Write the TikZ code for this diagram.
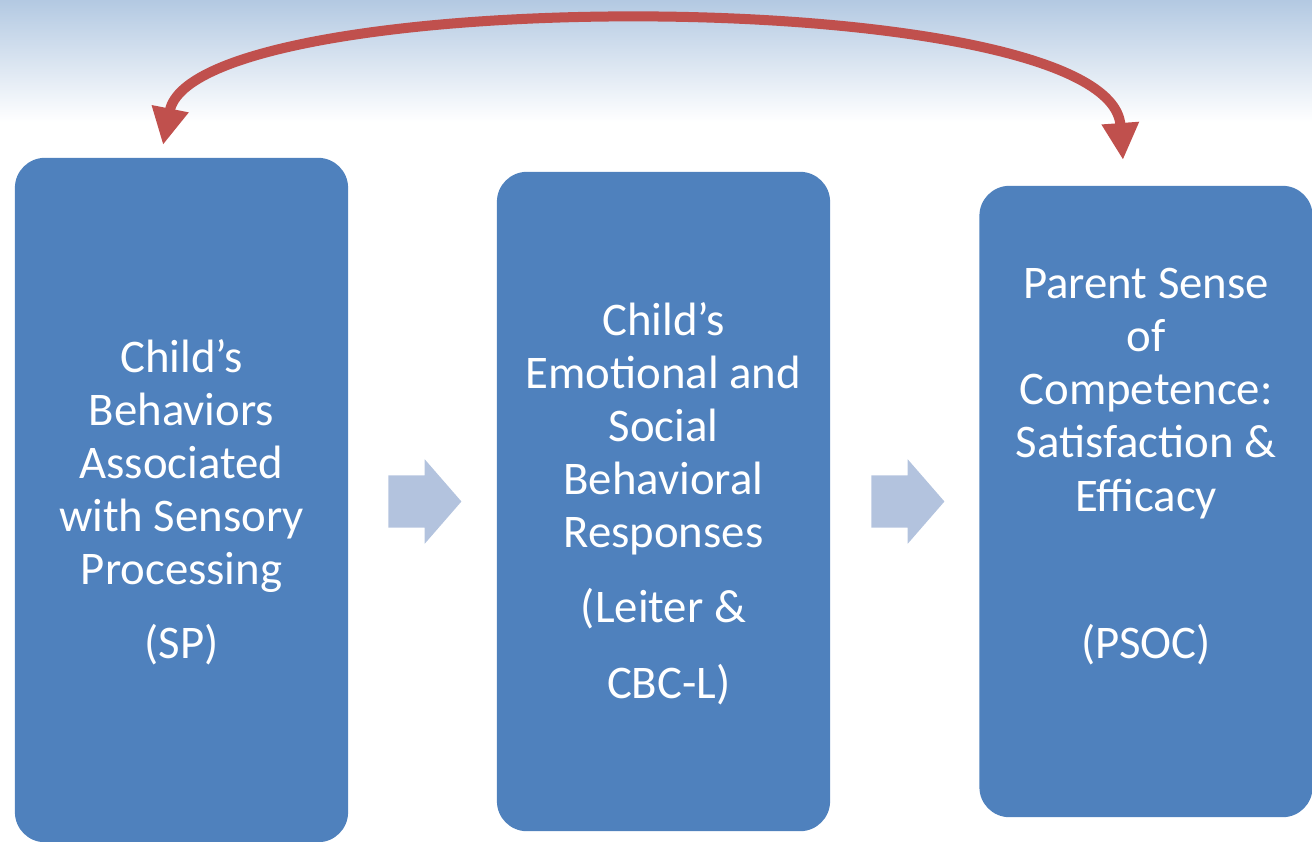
\documentclass[tikz,border=0pt]{standalone}
\usepackage{fontspec}
\setmainfont{Carlito}
\usetikzlibrary{arrows.meta,shapes.arrows}

\definecolor{boxblue}{HTML}{4F81BD}
\definecolor{arrowblue}{HTML}{B3C3DE}
\definecolor{loopred}{HTML}{C0504D}
\definecolor{skyblue}{HTML}{B3C9E2}

\tikzset{
	box/.style={fill=boxblue, rounded corners=0.3cm, minimum width=3.33cm, inner sep=0pt},
	boxtext/.style={text=white, align=center, anchor=base, inner sep=0pt,
		font=\fontsize{13.3}{15.1}\selectfont},
	flow/.style={single arrow, fill=arrowblue, inner xsep=0pt, inner ysep=0.255cm,
		minimum height=0.73cm, single arrow head extend=0.16cm, single arrow tip angle=98},
	loop/.style={draw=loopred, line width=0.1cm,
		{Triangle[width=0.35cm,length=0.37cm]}-{Triangle[width=0.35cm,length=0.37cm]}}
}

\begin{document}
\begin{tikzpicture}[x=0.01cm, y=-0.01cm]
	\useasboundingbox (0,0) rectangle (1312,841);
	\shade[top color=skyblue, bottom color=white] (0,0) rectangle (1312,122);

	% the three boxes
	\node[box, minimum height=6.84cm] (sp) at (181.5,500) {};
	\node[box, minimum height=6.59cm] (ser) at (663.5,501.5) {};
	\node[box, minimum height=6.31cm] (psoc) at (1146,501.5) {};

	% base anchor sits on the last line
	\node[boxtext] (sptext) at (181.5,658) {Child’s\\Behaviors\\Associated\\with Sensory\\Processing\\[5.7pt](SP)};
	\node[boxtext] (sertext) at (663.5,698) {Child’s\\Emotional and\\Social\\Behavioral\\Responses\\[6pt](Leiter \&\\[6.5pt]\ CBC-L)};
	\node[boxtext] (psoctext) at (1146,658) {Parent Sense\\of\\Competence:\\Satisfaction \&\\Efficacy\\[26.7pt](PSOC)};

	% block arrows between the boxes
	\node[flow] (a1) at (413.5,501.5) {};
	\node[flow] (a2) at (896.5,501.5) {};

	% feedback loop
	\coordinate (loopl) at (163,145);
	\coordinate (loopr) at (1123,160);
	\draw[loop] (loopl) .. controls (195,-17) and (1110,-18) .. (loopr);
\end{tikzpicture}
\end{document}
